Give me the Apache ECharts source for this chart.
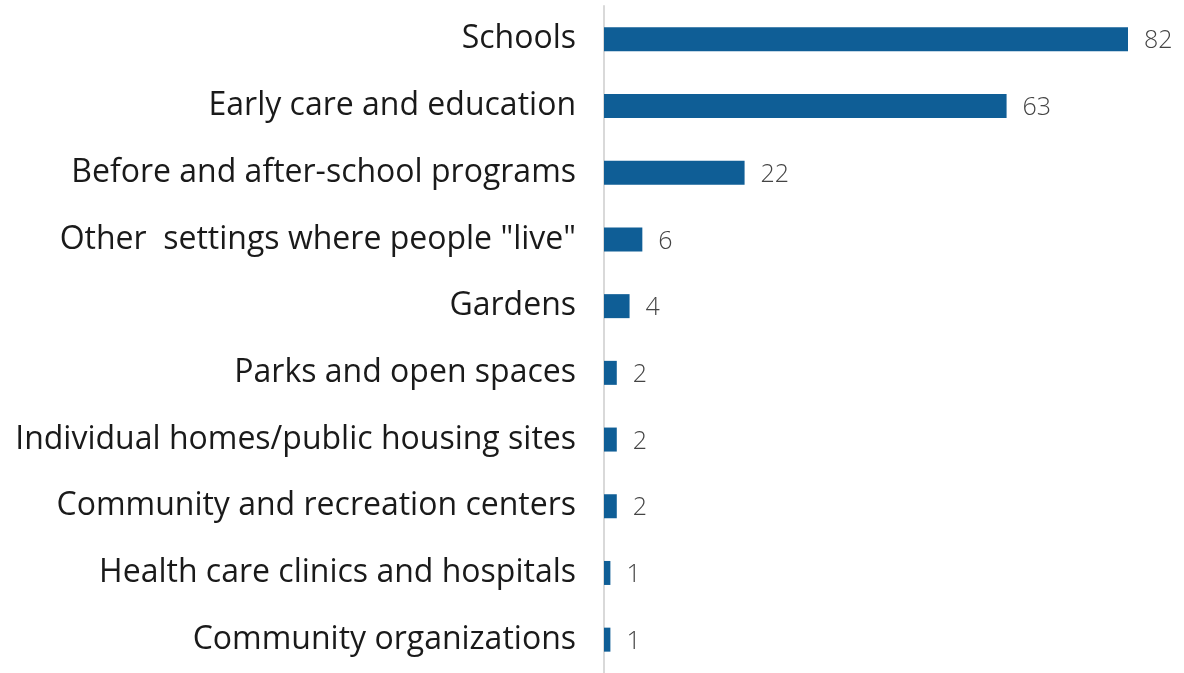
<!DOCTYPE html>
<html>
<head>
<meta charset="utf-8">
<script src="https://cdn.jsdelivr.net/npm/echarts@6/dist/echarts.min.js"></script>
<style>
  html, body { margin: 0; padding: 0; background: #ffffff; }
  #chart { width: 1184px; height: 673px; }
</style>
</head>
<body>
<div id="chart"></div>
<script>
// Settings where programs operate, number of sites
const categories = [
  'Schools',
  'Early care and education',
  'Before and after-school programs',
  'Other  settings where people "live"',
  'Gardens',
  'Parks and open spaces',
  'Individual homes/public housing sites',
  'Community and recreation centers',
  'Health care clinics and hospitals',
  'Community organizations'
];
const counts = [82, 63, 22, 6, 4, 2, 2, 2, 1, 1];

const chart = echarts.init(document.getElementById('chart'), null, { renderer: 'canvas' });

chart.setOption({
  animation: false,
  grid: { left: 604, right: 56, top: 6, height: 673 },
  xAxis: {
    type: 'value',
    min: 0,
    max: 82,
    show: false
  },
  yAxis: {
    type: 'category',
    data: categories,
    inverse: true,
    axisLine: { show: true, lineStyle: { color: '#d9d9d9', width: 2 } },
    axisTick: { show: false },
    axisLabel: {
      margin: 28,
      color: '#1a1a1a',
      fontFamily: 'Open Sans',
      fontSize: 32,
      lineHeight: 36,
      verticalAlign: 'middle'
    }
  },
  series: [{
    type: 'bar',
    data: counts,
    barWidth: 24,
    itemStyle: { color: '#0f5e96' },
    label: {
      show: true,
      position: 'right',
      distance: 16,
      color: '#444444',
      fontFamily: 'Open Sans',
      fontWeight: 300,
      fontSize: 25,
      offset: [0, 2]
    }
  }]
});
</script>
</body>
</html>
